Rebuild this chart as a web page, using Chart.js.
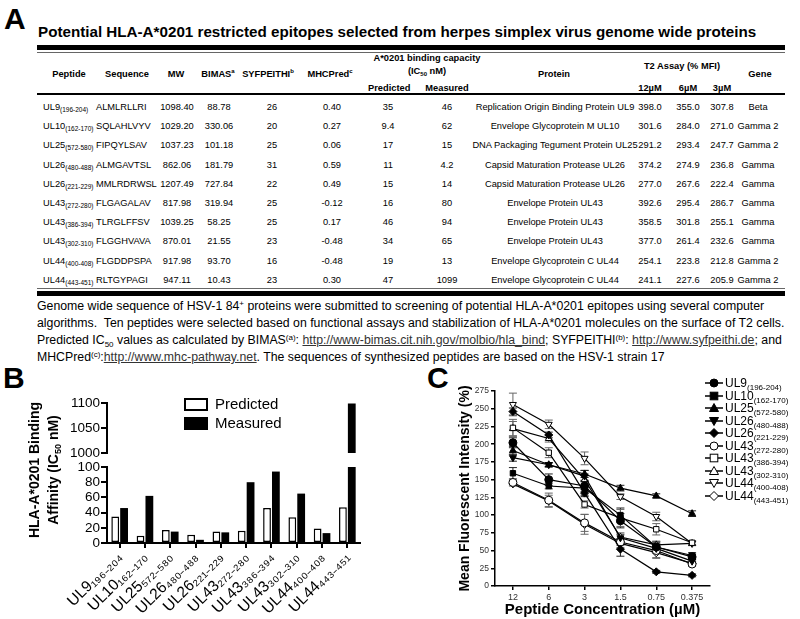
<!DOCTYPE html>
<html>
<head>
<meta charset="utf-8">
<script src="https://cdn.jsdelivr.net/npm/chart.js@4.4.1/dist/chart.umd.min.js"></script>
<style>
  body { margin: 0; width: 800px; height: 619px; position: relative; background: #fff; color: #000;
         font-family: "Liberation Sans", Arial, Helvetica, sans-serif; overflow: hidden; }
  .abs { position: absolute; white-space: nowrap; }
  .letter { font-weight: bold; font-size: 30px; line-height: 30px; }
  .cell { position: absolute; height: 14px; line-height: 14px; font-size: 9.3px; white-space: nowrap; }
  .cell sub { font-size: 6.5px; vertical-align: -2px; line-height: 0; }
  .head { font-weight: bold; }
  .head sup { font-size: 6px; vertical-align: 4px; line-height: 0; }
  .head sub { font-size: 6px; vertical-align: -2px; line-height: 0; }
  .rule { position: absolute; left: 37px; width: 748px; background: #000; }
  #note { left: 37px; top: 298px; font-size: 12.3px; line-height: 17px; }
  #note sup { font-size: 8px; vertical-align: 4px; line-height: 0; }
  #note sub { font-size: 8px; vertical-align: -3px; line-height: 0; }
  #note u { color: #333; }
  canvas { position: absolute; }
  .legB { font-size: 15px; line-height: 16px; }
  .box { position: absolute; width: 20px; height: 9px; border: 2px solid #000; }
  .legC { font-size: 12px; line-height: 12px; }
  .legC sub { font-size: 8px; vertical-align: -3px; line-height: 0; }
  .ytitle { font-weight: bold; text-align: center; transform: rotate(-90deg); }
  .ytitle sub { font-size: 9px; vertical-align: -3px; line-height: 0; }
</style>
</head>
<body>

<div class="abs letter" style="left:4px;top:4px;">A</div>
<div class="abs" id="title" style="left:38px;top:23px;font-weight:bold;font-size:15.2px;line-height:17px;">Potential HLA-A*0201 restricted epitopes selected from herpes simplex virus genome wide proteins</div>

<div class="rule" style="top:45px;height:5px;"></div>
<div class="rule" style="top:52px;height:1px;background:#666;"></div>
<div class="rule" style="top:93px;height:2px;"></div>
<div class="rule" style="top:288px;height:1px;background:#666;"></div>
<div class="rule" style="top:291px;height:5px;"></div>

<div class="abs" id="note">Genome wide sequence of HSV-1 84<sup>+</sup> proteins were submitted to screening of potential HLA-A*0201 epitopes using several computer<br>algorithms.&nbsp; Ten peptides were selected based on functional assays and stabilization of HLA-A*0201 molecules on the surface of T2 cells.<br>Predicted IC<sub>50</sub> values as calculated by BIMAS<sup>(a)</sup>: <u>http://www-bimas.cit.nih.gov/molbio/hla_bind</u>; SYFPEITHI<sup>(b)</sup>: <u>http://www.syfpeithi.de</u>; and<br>MHCPred<sup>(c)</sup>:<u>http://www.mhc-pathway.net</u>. The sequences of synthesized peptides are based on the HSV-1 strain 17</div>

<div class="abs letter" style="left:3px;top:363px;">B</div>
<div class="abs letter" style="left:427px;top:363px;">C</div>

<canvas id="bHigh" width="372" height="70" style="left:0;top:393px;"></canvas>
<canvas id="bLow" width="372" height="165" style="left:0;top:455px;"></canvas>

<div class="abs ytitle" style="left:-65px;top:450px;width:220px;height:40px;font-size:14px;line-height:19px;">HLA-A*0201 Binding<br>Affinity (IC<sub>50</sub> nM)</div>

<div class="box" style="left:184px;top:398px;background:#fff;"></div>
<div class="box" style="left:184px;top:417px;background:#000;"></div>
<div class="abs legB" style="left:215px;top:396px;">Predicted</div>
<div class="abs legB" style="left:215px;top:415px;">Measured</div>

<canvas id="cChart" width="275" height="244" style="left:455px;top:375px;"></canvas>
<div id="legC"></div>

<script>
// ---- Panel A table ----
const peptideNames = ['UL9', 'UL10', 'UL25', 'UL26', 'UL26', 'UL43', 'UL43', 'UL43', 'UL44', 'UL44'];
const peptideRanges = ['196-204', '162-170', '572-580', '480-488', '221-229', '272-280', '386-394', '302-310', '400-408', '443-451'];
const sequences = ['ALMLRLLRI', 'SQLAHLVYV', 'FIPQYLSAV', 'ALMGAVTSL', 'MMLRDRWSL', 'FLGAGALAV', 'TLRGLFFSV', 'FLGGHVAVA', 'FLGDDPSPA', 'RLTGYPAGI'];
const mw = ['1098.40', '1029.20', '1037.23', '862.06', '1207.49', '817.98', '1039.25', '870.01', '917.98', '947.11'];
const bimas = ['88.78', '330.06', '101.18', '181.79', '727.84', '319.94', '58.25', '21.55', '93.70', '10.43'];
const syfpeithi = ['26', '20', '25', '31', '22', '25', '25', '23', '16', '23'];
const mhcpred = ['0.40', '0.27', '0.06', '0.59', '0.49', '-0.12', '0.17', '-0.48', '-0.48', '0.30'];
const proteins = ['Replication Origin Binding Protein UL9', 'Envelope Glycoprotein M UL10', 'DNA Packaging Tegument Protein UL25',
  'Capsid Maturation Protease UL26', 'Capsid Maturation Protease UL26', 'Envelope Protein UL43', 'Envelope Protein UL43',
  'Envelope Protein UL43', 'Envelope Glycoprotein C UL44', 'Envelope Glycoprotein C UL44'];
const t2at12 = ['398.0', '301.6', '291.2', '374.2', '277.0', '392.6', '358.5', '377.0', '254.1', '241.1'];
const t2at6 = ['355.0', '284.0', '293.4', '274.9', '267.6', '295.4', '301.8', '261.4', '223.8', '227.6'];
const t2at3 = ['307.8', '271.0', '247.7', '236.8', '222.4', '286.7', '255.1', '232.6', '212.8', '205.9'];
const genes = ['Beta', 'Gamma 2', 'Gamma 2', 'Gamma', 'Gamma', 'Gamma', 'Gamma', 'Gamma', 'Gamma 2', 'Gamma 2'];

// ---- Panel B: binding affinity (IC50 nM) ----
const predicted = [35, 9.4, 17, 11, 15, 16, 46, 34, 19, 47];
const measured = [46, 62, 15, 4.2, 14, 80, 94, 65, 13, 1099];

// ---- Panel C: T2 assay, mean fluorescent intensity (%) ----
const concentrations = ['12', '6', '3', '1.5', '0.75', '0.375'];
const mfi_UL9_196 = [202, 150, 141, 92, 55, 41];
const err_UL9_196 = [7, 8, 8, 10, 8, 4];
const mfi_UL10_162 = [159, 141, 138, 100, 55, 43];
const err_UL10_162 = [8, 4, 10, 10, 6, 4];
const mfi_UL25_572 = [191, 171, 158, 138, 127, 102];
const err_UL25_572 = [6, 3, 5, 4, 3, 4];
const mfi_UL26_480 = [181, 171, 155, 68, 53, 35];
const err_UL26_480 = [5, 3, 8, 5, 4, 3];
const mfi_UL26_221 = [246, 213, 131, 52, 20, 15];
const err_UL26_221 = [5, 4, 5, 10, 2, 2];
const mfi_UL43_272 = [146, 121, 89, 62, 50, 31];
const err_UL43_272 = [3, 10, 12, 5, 10, 3];
const mfi_UL43_386 = [223, 188, 115, 96, 80, 61];
const err_UL43_386 = [12, 7, 5, 12, 8, 3];
const mfi_UL43_302 = [222, 208, 150, 69, 58, 60];
const err_UL43_302 = [10, 5, 8, 6, 5, 3];
const mfi_UL44_400 = [256, 228, 180, 126, 98, 60];
const err_UL44_400 = [16, 6, 9, 4, 6, 3];
const mfi_UL44_443 = [144, 120, 87, 60, 47, 32];
const err_UL44_443 = [3, 8, 14, 6, 8, 3];

// ---------- table ----------
function cell(html, x, w, cy, align, extra) {
  const d = document.createElement('div');
  d.className = 'cell' + (extra ? ' ' + extra : '');
  d.style.left = x + 'px';
  d.style.width = w + 'px';
  d.style.top = (cy - 7) + 'px';
  d.style.textAlign = align || 'center';
  d.innerHTML = html;
  document.body.appendChild(d);
}

cell('A*0201 binding capacity', 367, 120, 58, 'center', 'head');
cell('(IC<sub>50</sub> nM)', 367, 120, 71, 'center', 'head');
cell('Predicted', 368, 40, 88, 'center', 'head');
cell('Measured', 420, 54, 88, 'center', 'head');
cell('Peptide', 44, 50, 74, 'center', 'head');
cell('Sequence', 97, 60, 74, 'center', 'head');
cell('MW', 156, 40, 74, 'center', 'head');
cell('BIMAS<sup>a</sup>', 194, 48, 74, 'center', 'head');
cell('SYFPEITHI<sup>b</sup>', 240, 56, 74, 'center', 'head');
cell('MHCPred<sup>c</sup>', 300, 60, 74, 'center', 'head');
cell('Protein', 494, 120, 74, 'center', 'head');
cell('T2 Assay (% MFI)', 632, 100, 66, 'center', 'head');
cell('12\u00b5M', 630, 40, 88, 'center', 'head');
cell('6\u00b5M', 668, 40, 88, 'center', 'head');
cell('3\u00b5M', 702, 40, 88, 'center', 'head');
cell('Gene', 735, 50, 74, 'center', 'head');

peptideNames.forEach((p, i) => {
  const cy = 107 + 19.2 * i;
  cell(p + '<sub>(' + peptideRanges[i] + ')</sub>', 43, 55, cy, 'left');
  cell(sequences[i], 96, 64, cy, 'left');
  cell(mw[i], 157, 40, cy);
  cell(bimas[i], 199, 40, cy);
  cell(syfpeithi[i], 252, 40, cy);
  cell(mhcpred[i], 312, 40, cy);
  cell(String(predicted[i]), 368, 40, cy);
  cell(String(measured[i]), 427, 40, cy);
  cell(proteins[i], 465, 180, cy);
  cell(t2at12[i], 630, 40, cy);
  cell(t2at6[i], 668, 40, cy);
  cell(t2at3[i], 702, 40, cy);
  cell(genes[i], 728, 60, cy);
});

// ---------- panel B ----------
const subDigits = { '0': '\u2080', '1': '\u2081', '2': '\u2082', '3': '\u2083', '4': '\u2084', '5': '\u2085',
  '6': '\u2086', '7': '\u2087', '8': '\u2088', '9': '\u2089', '-': '\u208b' };
const toSub = s => s.split('').map(c => subDigits[c] || c).join('');
const barLabels = peptideNames.map((p, i) => p + toSub(peptideRanges[i]));

const fam = '"Liberation Sans", Arial, sans-serif';

function barDatasets() {
  return [
    { label: 'Predicted', data: predicted, backgroundColor: '#fff', borderColor: '#000', borderWidth: 1.5,
      borderSkipped: false, barPercentage: 0.88, categoryPercentage: 0.7, clip: 0 },
    { label: 'Measured', data: measured, backgroundColor: '#000', borderColor: '#000', borderWidth: 0,
      barPercentage: 0.88, categoryPercentage: 0.7, clip: 0 }
  ];
}

// the broken y axis is two stacked charts sharing the same x layout
function yAxisB(min, max, step) {
  return {
    min: min, max: max,
    ticks: { stepSize: step, autoSkip: false, font: { family: fam, size: 13.5 }, color: '#000', padding: 1,
             callback: v => String(v) },
    grid: { drawOnChartArea: false, drawTicks: true, tickLength: 6, color: '#000', lineWidth: 2 },
    border: { display: true, color: '#000', width: 2 },
    afterFit: s => { s.width = 107; }
  };
}

new Chart(document.getElementById('bHigh'), {
  type: 'bar',
  data: { labels: barLabels, datasets: barDatasets() },
  options: {
    responsive: false, animation: false,
    layout: { padding: { top: 10, right: 12, left: 0, bottom: 10 } },
    plugins: { legend: { display: false }, tooltip: { enabled: false } },
    scales: {
      x: { display: false },
      y: yAxisB(1000, 1100, 50)
    }
  }
});

new Chart(document.getElementById('bLow'), {
  type: 'bar',
  data: { labels: barLabels, datasets: barDatasets() },
  options: {
    responsive: false, animation: false,
    layout: { padding: { top: 12, right: 12, left: 0, bottom: 0 } },
    plugins: { legend: { display: false }, tooltip: { enabled: false } },
    scales: {
      x: {
        grid: { offset: false, drawOnChartArea: false, drawTicks: true, tickLength: 5, color: '#000', lineWidth: 2 },
        border: { display: true, color: '#000', width: 2 },
        ticks: { minRotation: 45, maxRotation: 45, autoSkip: false, font: { family: fam, size: 15.5 },
                 color: '#000', padding: 0 },
        afterFit: s => { s.height = 77; }
      },
      y: yAxisB(0, 100, 20)
    }
  }
});

// ---------- panel C ----------
const seriesC = [
  { name: 'UL9', range: '196-204', data: mfi_UL9_196, err: err_UL9_196, shape: 'circle', rot: 0, fill: '#000' },
  { name: 'UL10', range: '162-170', data: mfi_UL10_162, err: err_UL10_162, shape: 'rect', rot: 0, fill: '#000' },
  { name: 'UL25', range: '572-580', data: mfi_UL25_572, err: err_UL25_572, shape: 'triangle', rot: 0, fill: '#000' },
  { name: 'UL26', range: '480-488', data: mfi_UL26_480, err: err_UL26_480, shape: 'triangle', rot: 180, fill: '#000' },
  { name: 'UL26', range: '221-229', data: mfi_UL26_221, err: err_UL26_221, shape: 'rectRot', rot: 0, fill: '#000' },
  { name: 'UL43', range: '272-280', data: mfi_UL43_272, err: err_UL43_272, shape: 'circle', rot: 0, fill: '#fff' },
  { name: 'UL43', range: '386-394', data: mfi_UL43_386, err: err_UL43_386, shape: 'rect', rot: 0, fill: '#fff' },
  { name: 'UL43', range: '302-310', data: mfi_UL43_302, err: err_UL43_302, shape: 'triangle', rot: 0, fill: '#fff' },
  { name: 'UL44', range: '400-408', data: mfi_UL44_400, err: err_UL44_400, shape: 'triangle', rot: 180, fill: '#fff' },
  { name: 'UL44', range: '443-451', data: mfi_UL44_443, err: err_UL44_443, shape: 'rectRot', rot: 0, fill: '#fff' }
];

// draws the SEM whiskers under the markers
const errorBars = {
  id: 'errorBars',
  beforeDatasetsDraw(chart) {
    const ctx = chart.ctx, y = chart.scales.y;
    chart.data.datasets.forEach((ds, i) => {
      const meta = chart.getDatasetMeta(i);
      ctx.save();
      ctx.strokeStyle = ds.pointBackgroundColor === '#fff' ? '#666' : '#222';
      ctx.lineWidth = 1;
      meta.data.forEach((pt, j) => {
        const e = ds.errors[j];
        const top = y.getPixelForValue(ds.data[j] + e);
        const bot = y.getPixelForValue(ds.data[j] - e);
        ctx.beginPath();
        ctx.moveTo(pt.x, top); ctx.lineTo(pt.x, bot);
        ctx.moveTo(pt.x - 4, top); ctx.lineTo(pt.x + 4, top);
        ctx.moveTo(pt.x - 4, bot); ctx.lineTo(pt.x + 4, bot);
        ctx.stroke();
      });
      ctx.restore();
    });
  }
};

new Chart(document.getElementById('cChart'), {
  type: 'line',
  data: {
    labels: concentrations,
    datasets: seriesC.map(s => ({
      label: s.name + '(' + s.range + ')',
      data: s.data,
      errors: s.err,
      borderColor: '#000',
      borderWidth: 1.2,
      pointStyle: s.shape,
      pointRotation: s.rot,
      pointRadius: s.shape === 'rect' ? 3.8 : 4,
      pointBackgroundColor: s.fill,
      pointBorderColor: '#000',
      pointBorderWidth: 1,
      tension: 0
    }))
  },
  options: {
    responsive: false, animation: false,
    layout: { padding: { top: 16, right: 20, left: 0, bottom: 0 } },
    plugins: { legend: { display: false }, tooltip: { enabled: false } },
    scales: {
      x: {
        offset: true,
        grid: { offset: false, drawOnChartArea: false, drawTicks: true, tickLength: 4, color: '#000', lineWidth: 1.5 },
        border: { display: true, color: '#000', width: 1.5 },
        ticks: { font: { family: fam, size: 9 }, color: '#333', padding: 2 },
        title: { display: true, text: 'Peptide Concentration (\u00b5M)', font: { family: fam, size: 15, weight: 'bold' },
                 color: '#000', padding: { top: 0, bottom: 0 } },
        afterFit: s => { s.height = 33; }
      },
      y: {
        min: 0, max: 275,
        ticks: { stepSize: 25, autoSkip: false, font: { family: fam, size: 8.5 }, color: '#333', padding: 2 },
        grid: { drawOnChartArea: false, drawTicks: true, tickLength: 4, color: '#000', lineWidth: 1.5 },
        border: { display: true, color: '#000', width: 1.5 },
        title: { display: true, text: 'Mean Fluorescent Intensity (%)', font: { family: fam, size: 14, weight: 'bold' },
                 color: '#000', padding: { top: 2, bottom: 2 } },
        afterFit: s => { s.width = 40; }
      }
    }
  },
  plugins: [errorBars]
});

// legend for panel C
const legC = document.getElementById('legC');
seriesC.forEach((s, i) => {
  const cy = 383 + 12.5 * i;
  let mark;
  if (s.shape === 'circle') mark = `<circle cx="9" cy="6" r="4" fill="${s.fill}" stroke="#000" stroke-width="1"/>`;
  else if (s.shape === 'rect') mark = `<rect x="5.2" y="2.2" width="7.6" height="7.6" fill="${s.fill}" stroke="#000" stroke-width="1"/>`;
  else if (s.shape === 'rectRot') mark = `<polygon points="9,1.5 13.5,6 9,10.5 4.5,6" fill="${s.fill}" stroke="#000" stroke-width="1"/>`;
  else if (s.rot === 0) mark = `<polygon points="9,1.5 13.5,9.5 4.5,9.5" fill="${s.fill}" stroke="#000" stroke-width="1"/>`;
  else mark = `<polygon points="9,10.5 13.5,2.5 4.5,2.5" fill="${s.fill}" stroke="#000" stroke-width="1"/>`;
  const d = document.createElement('div');
  d.className = 'abs legC';
  d.style.left = '705px';
  d.style.top = (cy - 6) + 'px';
  d.innerHTML = `<svg width="18" height="12" style="vertical-align:top;margin-right:2px"><line x1="0" y1="6" x2="18" y2="6" stroke="#000" stroke-width="1.5"/>${mark}</svg>${s.name}<sub>(${s.range})</sub>`;
  legC.appendChild(d);
});
</script>
</body>
</html>
